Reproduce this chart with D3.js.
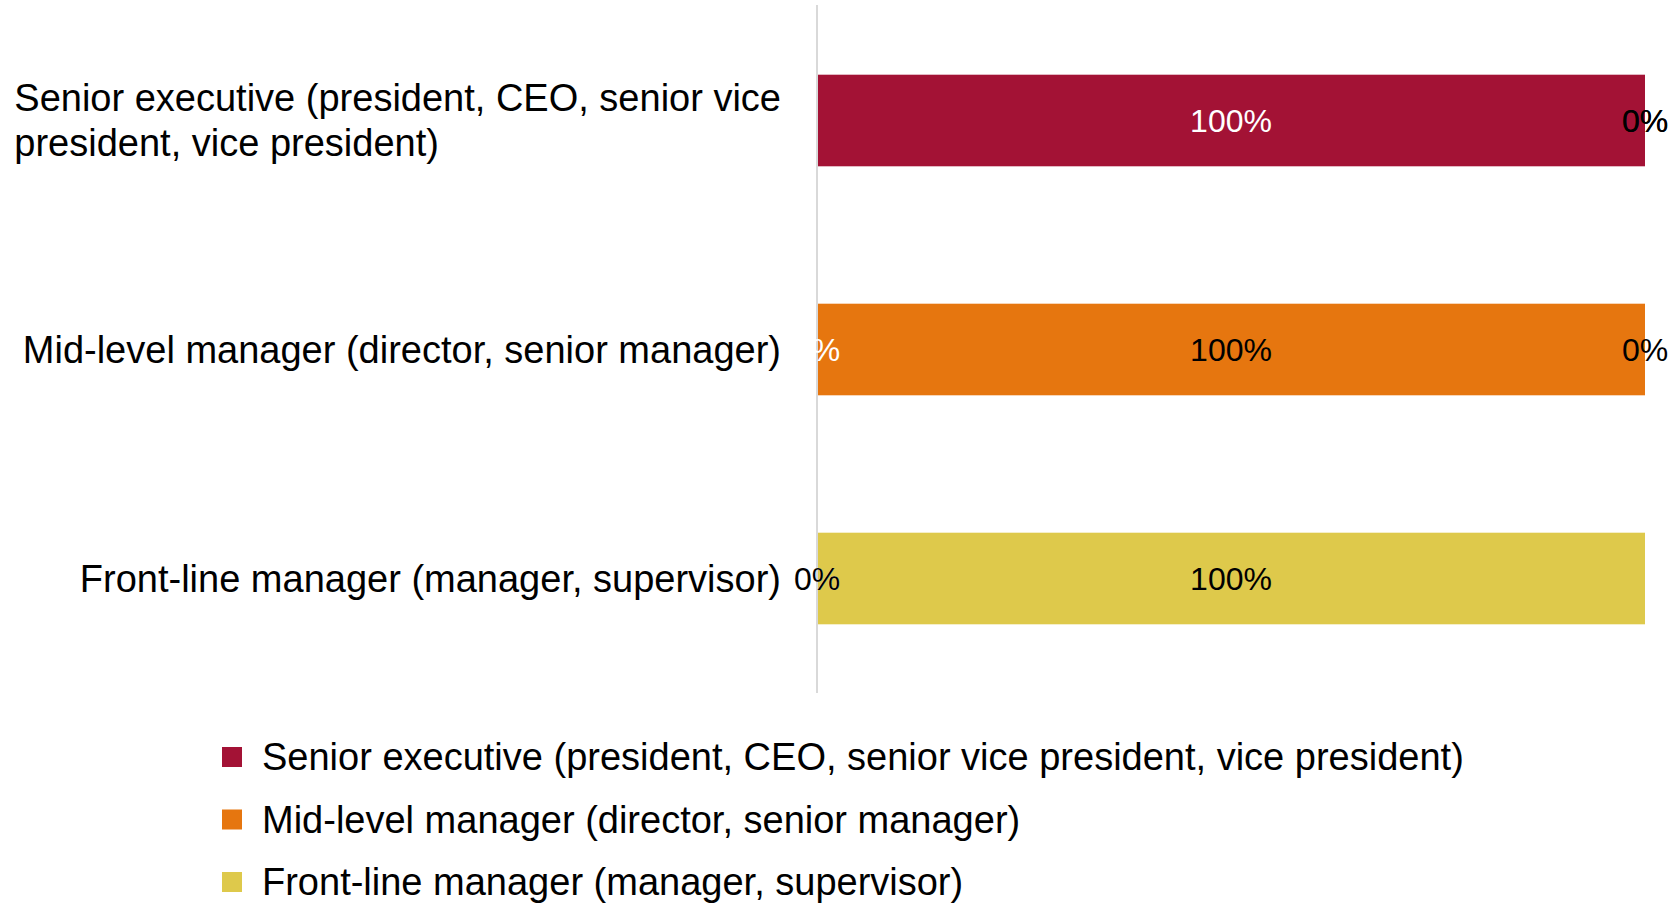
<!DOCTYPE html>
<html>
<head>
<meta charset="utf-8">
<script src="https://cdn.jsdelivr.net/npm/d3@7"></script>
<style>
	body { margin: 0; background: #fff; }
	svg { display: block; font-family: "Liberation Sans", Arial, sans-serif; }
</style>
</head>
<body>
<div id="chart"></div>
<script>
// categories (rows) and series (stack segments), values in percent
const categories = [
	"Senior executive (president, CEO, senior vice president, vice president)",
	"Mid-level manager (director, senior manager)",
	"Front-line manager (manager, supervisor)"
];
const seriesNames = [
	"Senior executive (president, CEO, senior vice president, vice president)",
	"Mid-level manager (director, senior manager)",
	"Front-line manager (manager, supervisor)"
];
const seniorValues = [100, 0, 0];
const midValues    = [0, 100, 0];
const frontValues  = [0, 0, 100];
const seriesColors = ["#a31235", "#e6760f", "#dec94b"];
const labelColors  = ["#ffffff", "#000000", "#000000"];

const width = 1675, height = 903;
const plot = {left: 817, right: 1645, top: 6, bottom: 693};

const rows = categories.map((c, i) => ({
	category: c,
	s0: seniorValues[i], s1: midValues[i], s2: frontValues[i]
}));
const keys = ["s0", "s1", "s2"];
const stacked = d3.stack().keys(keys)(rows);

const svg = d3.select("#chart").append("svg")
	.attr("width", width).attr("height", height);

const x = d3.scaleLinear().domain([0, 100]).range([plot.left, plot.right]);
const y = d3.scaleBand().domain(categories)
	.range([plot.top, plot.bottom])
	.paddingInner(0.6).paddingOuter(0.3);

// bars
const layers = svg.append("g").selectAll("g")
	.data(stacked).join("g")
	.attr("fill", (d, i) => seriesColors[i]);

layers.selectAll("rect")
	.data(d => d).join("rect")
	.attr("x", d => x(d[0]))
	.attr("y", d => y(d.data.category))
	.attr("width", d => x(d[1]) - x(d[0]))
	.attr("height", y.bandwidth());

// vertical category axis line
svg.append("line")
	.attr("x1", plot.left).attr("x2", plot.left)
	.attr("y1", plot.top - 1).attr("y2", plot.bottom)
	.attr("stroke", "#d9d9d9").attr("stroke-width", 2);

// data labels (drawn over all bars)
const labels = svg.append("g").selectAll("g")
	.data(stacked).join("g")
	.attr("fill", (d, i) => labelColors[i]);

labels.selectAll("text")
	.data(d => d).join("text")
	.attr("x", d => (x(d[0]) + x(d[1])) / 2)
	.attr("y", d => y(d.data.category) + y.bandwidth() / 2)
	.attr("text-anchor", "middle")
	.attr("dominant-baseline", "central")
	.attr("font-size", 32)
	.text(d => (d[1] - d[0]) + "%");

// category labels, wrapped and right-aligned as a block
const catFont = 38, lineH = 45, wrapW = 775, labelRight = 781;
const measure = svg.append("text").attr("font-size", catFont).attr("visibility", "hidden");
function textW(s) { measure.text(s); return measure.node().getComputedTextLength(); }
function wrap(s) {
	const words = s.split(" ");
	const lines = [];
	let cur = "";
	words.forEach(w => {
		const t = cur ? cur + " " + w : w;
		if (cur && textW(t) > wrapW) { lines.push(cur); cur = w; } else cur = t;
	});
	lines.push(cur);
	return lines;
}

const catG = svg.append("g");
categories.forEach(c => {
	const lines = wrap(c);
	const maxW = d3.max(lines, textW);
	const cy = y(c) + y.bandwidth() / 2;
	const t = catG.append("text")
		.attr("font-size", catFont)
		.attr("fill", "#000");
	lines.forEach((l, i) => {
		t.append("tspan")
			.attr("x", labelRight - maxW)
			.attr("y", cy + (i - (lines.length - 1) / 2) * lineH)
			.attr("dominant-baseline", "central")
			.text(l);
	});
});
measure.remove();

// legend
const legendY = d3.scalePoint().domain(seriesNames).range([757, 882]);
const legend = svg.append("g").selectAll("g")
	.data(seriesNames).join("g")
	.attr("transform", d => `translate(222, ${legendY(d)})`);
legend.append("rect")
	.attr("x", 0).attr("y", -10)
	.attr("width", 20).attr("height", 20)
	.attr("fill", (d, i) => seriesColors[i]);
legend.append("text")
	.attr("x", 40).attr("y", 0)
	.attr("dominant-baseline", "central")
	.attr("font-size", 38)
	.text(d => d);
</script>
</body>
</html>
